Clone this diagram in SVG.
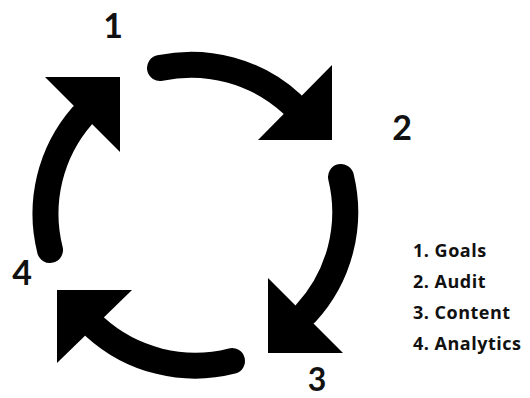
<svg xmlns="http://www.w3.org/2000/svg" width="530" height="398" viewBox="0 0 530 398">
<style>
.shaft{fill:none;stroke:#000;stroke-width:26;stroke-linecap:round}
.head{fill:#000}
.num{font-family:Lato,"Liberation Sans",sans-serif;font-weight:bold;font-size:34px;fill:#111;text-anchor:middle}
.leg{font-family:"Open Sans","Liberation Sans",sans-serif;font-weight:bold;font-size:18px;letter-spacing:0.5px;fill:#111}
</style>
<rect width="530" height="398" fill="#fff"/>
<g id="connectors">
<path class="shaft" d="M160,68 A149,149 0 0 1 292,104"/>
<polygon class="head" points="332,65 332,140 258,140"/>
<path class="shaft" d="M341,177 A149,149 0 0 1 306,313"/>
<polygon class="head" points="268,278 268,353 343,353"/>
<path class="shaft" d="M232,361 A149,149 0 0 1 95,327"/>
<polygon class="head" points="57,290 132,290 57,363"/>
<path class="shaft" d="M50,250 A149,149 0 0 1 82,116"/>
<polygon class="head" points="45,77 120,77 120,152"/>
</g>
<g id="node1"><text class="num" x="113" y="38">1</text></g>
<g id="node2"><text class="num" x="402" y="140">2</text></g>
<g id="node3"><text class="num" x="317" y="391" style="font-size:32px">3</text></g>
<g id="node4"><text class="num" x="22" y="285">4</text></g>
<g id="legend">
<text class="leg" x="413" y="257">1. Goals</text>
<text class="leg" x="413" y="288">2. Audit</text>
<text class="leg" x="413" y="319">3. Content</text>
<text class="leg" x="413" y="350">4. Analytics</text>
</g>
</svg>
